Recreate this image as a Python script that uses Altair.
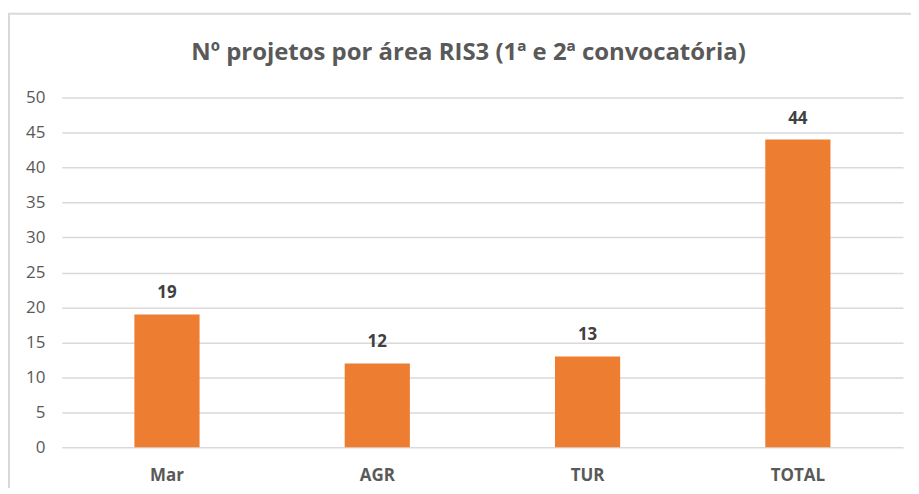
import altair as alt
import pandas as pd

categories = ["Mar", "AGR", "TUR", "TOTAL"]
values = [19, 12, 13, 44]
y_ticks = [0, 5, 10, 15, 20, 25, 30, 35, 40, 45, 50]

df = pd.DataFrame({"area": categories, "n": values})

W, H = 844, 351

base = alt.Chart(df).encode(
    x=alt.X("area:N", sort=categories, title=None,
            scale=alt.Scale(paddingInner=0.69, paddingOuter=0.345),
            axis=alt.Axis(labelAngle=0, labelFont="Open Sans", labelFontSize=17,
                          labelFontWeight="bold", labelColor="#595959",
                          labelBaseline="alphabetic",
                          ticks=False, domain=False, labelPadding=33, grid=False)),
    y=alt.Y("n:Q", title=None,
            scale=alt.Scale(domain=[0, 50]),
            axis=alt.Axis(values=y_ticks, labelFont="Open Sans", labelOverlap=False,
                          labelFontSize=17, labelColor="#595959", ticks=False,
                          domain=False, labelPadding=17, gridColor="#d9d9d9",
                          gridWidth=1.5)),
)

bars = base.mark_bar(color="#ED7D31")

labels = base.mark_text(baseline="alphabetic", dy=-16, font="Open Sans", fontSize=17,
                        fontWeight="bold", color="#404040").encode(text="n:Q")

frame = alt.Chart(pd.DataFrame({"k": [0]})).mark_rect(
    fill=None, stroke="#d9d9d9", strokeWidth=2
).encode(x=alt.value(-53), x2=alt.value(W + 40), y=alt.value(-84), y2=alt.value(H + 100))

chart = alt.layer(frame, bars, labels).properties(
    width=W, height=H,
    autosize=alt.AutoSizeParams(type="none"),
    padding={"left": 54, "top": 89, "right": 8, "bottom": 40},
    title=alt.TitleParams("Nº projetos por área RIS3 (1ª e 2ª convocatória)",
                          font="Open Sans", fontSize=24, fontWeight="bold",
                          color="#595959", anchor="middle", dx=-14, offset=-52),
).configure_view(stroke=None)

chart.save("out.html", embed_options={"renderer": "svg", "actions": False})
